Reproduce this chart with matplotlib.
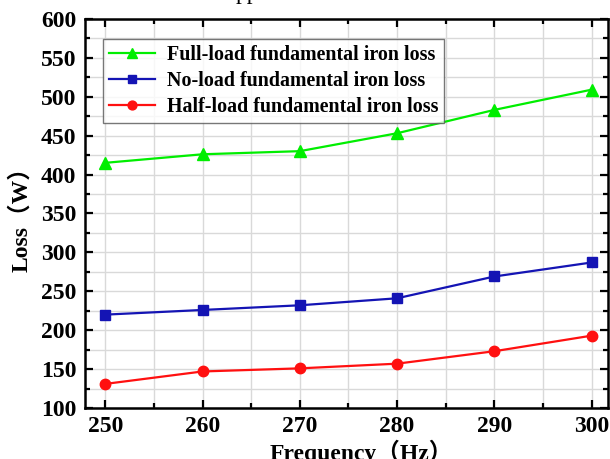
import matplotlib.pyplot as plt
from matplotlib.ticker import MultipleLocator

# dados
freq = [250, 260, 270, 280, 290, 300]
full_load = [415, 426, 430, 453, 483, 509]
no_load = [220, 226, 232, 241, 269, 287]
half_load = [131, 147, 151, 157, 173, 193]

serif = ['Liberation Serif', 'Noto Sans CJK SC']
plt.rcParams['font.family'] = serif
plt.rcParams['font.weight'] = 'bold'

fig = plt.figure(figsize=(6.1, 4.59), dpi=100)
ax = fig.add_axes([0.139, 0.111, 0.858, 0.848])

ax.plot(freq, full_load, label="Full-load fundamental iron loss", color='#00ee00',
        marker='^', markersize=8, linewidth=1.6)
ax.plot(freq, no_load, label="No-load fundamental iron loss", color='#1414b4',
        marker='s', markersize=7, linewidth=1.6)
ax.plot(freq, half_load, label="Half-load fundamental iron loss", color='#ff1010',
        marker='o', markersize=7.5, linewidth=1.6)

ax.set_xlim(247.9, 301.7)
ax.set_ylim(100, 600)
ax.xaxis.set_major_locator(MultipleLocator(10))
ax.xaxis.set_minor_locator(MultipleLocator(5))
ax.yaxis.set_major_locator(MultipleLocator(50))
ax.yaxis.set_minor_locator(MultipleLocator(25))

ax.grid(True, which='both', color='#d9d9d9', linewidth=1.0)
ax.set_axisbelow(True)

ax.tick_params(which='both', direction='in', top=True, right=True, width=1.6)
ax.tick_params(which='major', length=6, labelsize=17, pad=6)
ax.tick_params(which='minor', length=3.5)
for s in ax.spines.values():
    s.set_linewidth(1.8)
for lbl in ax.get_xticklabels() + ax.get_yticklabels():
    lbl.set_fontweight('bold')

ax.set_ylabel("Loss（W）", fontsize=17, fontweight='bold', labelpad=6)
ax.set_xlabel("Frequency（Hz）", fontsize=17, fontweight='bold', labelpad=2)
ax.xaxis.label.set_x(0.528)

leg = ax.legend(loc='upper left', bbox_to_anchor=(0.034, 0.949), borderaxespad=0,
                frameon=True, fancybox=False, handlelength=2.3, handletextpad=0.6,
                borderpad=0.3, labelspacing=0.3, markerscale=0.85,
                prop={'weight': 'bold', 'size': 14.4, 'family': serif})
leg.get_frame().set_edgecolor('#555555')
leg.get_frame().set_linewidth(1.0)

# restos do titulo cortado no topo
fig.text(0.405, 1 + 1 / 459, "pp", fontsize=17, fontweight='normal',
         ha='center', va='baseline')

fig.savefig("out.png", dpi=100)
